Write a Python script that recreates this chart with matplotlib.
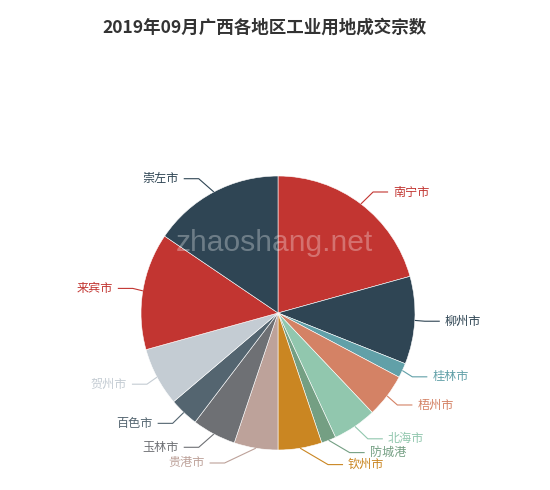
import math
import matplotlib
matplotlib.use("Agg")
import matplotlib.pyplot as plt

plt.rcParams['font.family'] = ['Noto Sans CJK SC', 'DejaVu Sans']

# === DATA ===
TITLE = "2019年09月广西各地区工业用地成交宗数"
cities = ["南宁市", "柳州市", "桂林市", "梧州市", "北海市", "防城港", "钦州市",
          "贵港市", "玉林市", "百色市", "贺州市", "来宾市", "崇左市"]
counts = [12, 6, 1, 3, 3, 1, 3, 3, 3, 2, 4, 8, 9]
palette = ['#c23531', '#2f4554', '#61a0a8', '#d48265', '#91c7ae', '#749f83',
           '#ca8622', '#bda29a', '#6e7074', '#546570', '#c4ccd3']

# === LAYOUT (pixels, y downward) ===
W, H = 550, 490
CX, CY, R = 278, 313, 137
LEN1, LEN2, LABEL_DIST, LABEL_H = 15, 15, 5, 12

colors = [palette[i % len(palette)] for i in range(len(counts))]

fig = plt.figure(figsize=(W / 100, H / 100), dpi=100)
ax = fig.add_axes([0, 0, 1, 1])

ax.pie(counts, colors=colors, center=(CX, H - CY), radius=R, startangle=90,
       counterclock=False, wedgeprops=dict(edgecolor='white', linewidth=0.4))
ax.set_xlim(0, W)
ax.set_ylim(0, H)
ax.set_aspect('equal')
ax.axis('off')

# label layout, echarts style
total = sum(counts)
labels = []
acc = 0
for i, v in enumerate(counts):
    mid = (acc + v / 2) / total * 2 * math.pi
    acc += v
    s, c = math.sin(mid), math.cos(mid)
    p0 = (CX + R * s, CY - R * c)
    y = CY - (R + LEN1) * c
    x = CX + (R + LEN1) * s
    labels.append(dict(i=i, p0=p0, x=x, y=y, dir=1 if x >= CX else -1))


def adjust_side(lst, d):
    lst.sort(key=lambda a: a['y'])
    n = len(lst)

    def shift_up(end, delta):
        for j in range(end, -1, -1):
            lst[j]['y'] -= delta
            if j > 0 and lst[j]['y'] > lst[j - 1]['y'] + LABEL_H:
                break

    def shift_down(start, end, delta):
        for j in range(start, end):
            lst[j]['y'] += delta
            if j > start and j + 1 < end and lst[j + 1]['y'] > lst[j]['y'] + LABEL_H:
                shift_up(j, delta / 2)
                return
        shift_up(end - 1, delta / 2)

    last_y = 0
    for k in range(n):
        delta = lst[k]['y'] - last_y
        if delta < 0:
            shift_down(k, n, -delta)
        last_y = lst[k]['y'] + LABEL_H

    for down in (False, True):
        sub = [a for a in lst if (a['y'] >= CY) == down]
        last_dx = 1e9 if down else 0
        for a in sub:
            dy = abs(a['y'] - CY)
            if dy < R + LEN1:
                dx = math.sqrt((R + LEN1 + LEN2) ** 2 - dy ** 2)
            else:
                dx = abs(a['x'] - CX)
            if down and dx >= last_dx:
                dx = last_dx - 10
            if not down and dx <= last_dx:
                dx = last_dx + 10
            a['x'] = CX + dx * d
            last_dx = dx


adjust_side([a for a in labels if a['dir'] > 0], 1)
adjust_side([a for a in labels if a['dir'] < 0], -1)

for a in labels:
    col = colors[a['i']]
    d = a['dir']
    x2 = a['x'] - LABEL_DIST * d
    x1 = x2 - LEN2 * d
    xs = [a['p0'][0], x1, x2]
    ys = [H - a['p0'][1], H - a['y'], H - a['y']]
    ax.plot(xs, ys, color=col, linewidth=0.8, solid_capstyle='butt')
    ax.text(a['x'], H - a['y'], cities[a['i']], color=col, fontsize=8.7,
            ha='left' if d > 0 else 'right', va='center')

# watermark
ax.text(274, H - 243, "zhaoshang.net", fontsize=21.6, family='Liberation Sans',
        color='white', alpha=0.3, ha='center', va='center')

ax.text(265, H - 28, TITLE, fontsize=12.6, fontweight='bold', color='#333333',
        ha='center', va='center')

fig.savefig("out.png", dpi=100, facecolor='white')
